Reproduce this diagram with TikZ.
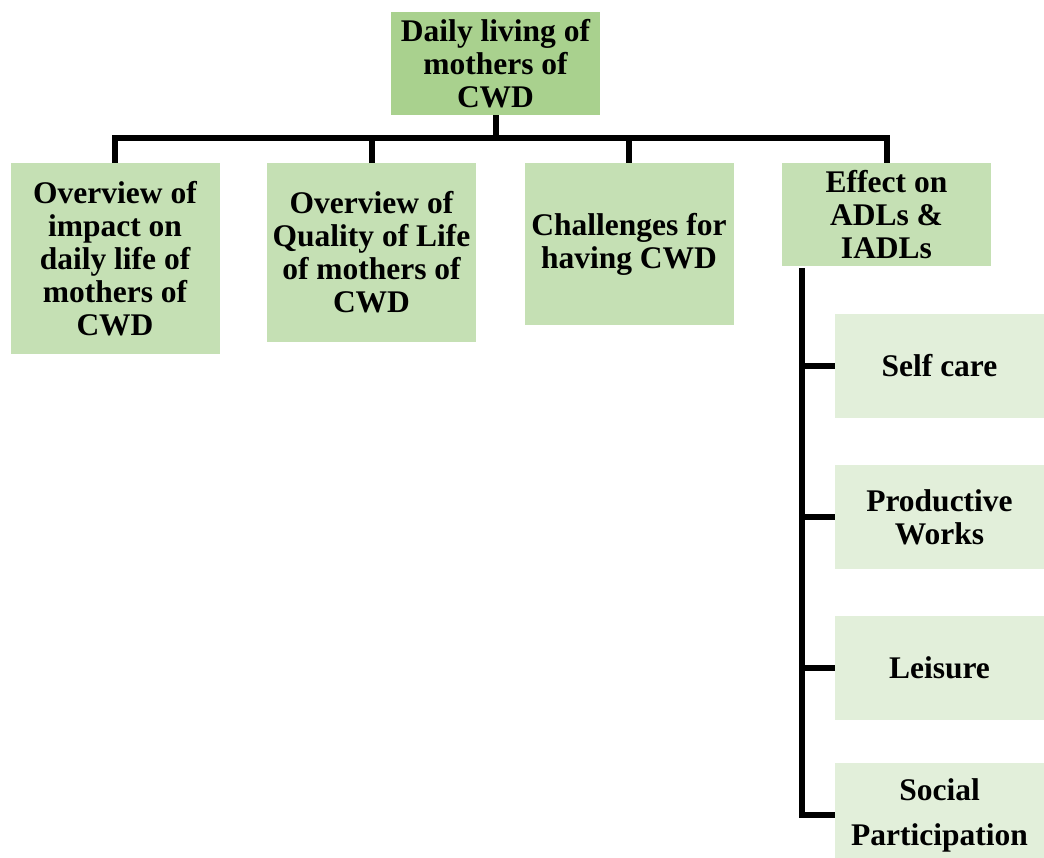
\documentclass[tikz,border=0pt]{standalone}
\usepackage{fontspec}
\setmainfont{Liberation Serif}
\begin{document}
\begin{tikzpicture}[x=1pt,y=1pt,
  box/.style={inner sep=0pt, align=center, font=\bfseries\fontsize{31.5}{33}\selectfont},
  rootbox/.style={box, fill=rootgreen, minimum width=209pt, minimum height=103pt},
  midbox/.style={box, fill=midgreen, minimum width=209pt},
  subbox/.style={box, fill=subgreen, minimum width=209pt, minimum height=104pt},
  link/.style={line width=6pt, draw=black}]
\definecolor{rootgreen}{HTML}{A9D18E}
\definecolor{midgreen}{HTML}{C5E0B4}
\definecolor{subgreen}{HTML}{E2EFDA}
\clip (0,0) rectangle (1044,-857);
\fill[white] (0,0) rectangle (1044,-857);
% root
\node[rootbox] (root) at (495.5,-63.5) {Daily living of\\mothers of\\CWD};
% level 1
\node[midbox, minimum height=191pt] (a) at (115,-258.5) {Overview of\\impact on\\daily life of\\mothers of\\CWD};
\node[midbox, minimum height=179pt] (b) at (371.5,-252.5) {Overview of\\Quality of Life\\of mothers of\\CWD};
\node[midbox, minimum height=162pt] (c) at (629,-244) {Challenges for\\having CWD};
\node[midbox, minimum height=103pt] (d) at (886.5,-214.5) {Effect on\\ADLs \&\\IADLs};
% level 2
\node[subbox] (s1) at (939.5,-366) {Self care};
\node[subbox] (s2) at (939.5,-517) {Productive\\Works};
\node[subbox] (s3) at (939.5,-668) {Leisure};
\node[subbox] (s4) at (939.5,-815) {Social\\[12pt]Participation};
% connectors
\coordinate (bar) at (495.5,-138);
\coordinate (sp) at (802,-268);
\draw[link] (root.south) -- (root.south |- bar);
\draw[link] (a.north) -- (a.north |- bar) -- (d.north |- bar) -- (d.north);
\draw[link] (b.north) -- (b.north |- bar);
\draw[link] (c.north) -- (c.north |- bar);
\draw[link] (sp) |- (s4.west);
\draw[link] (s1.west -| sp) -- (s1.west);
\draw[link] (s2.west -| sp) -- (s2.west);
\draw[link] (s3.west -| sp) -- (s3.west);
\end{tikzpicture}
\end{document}
